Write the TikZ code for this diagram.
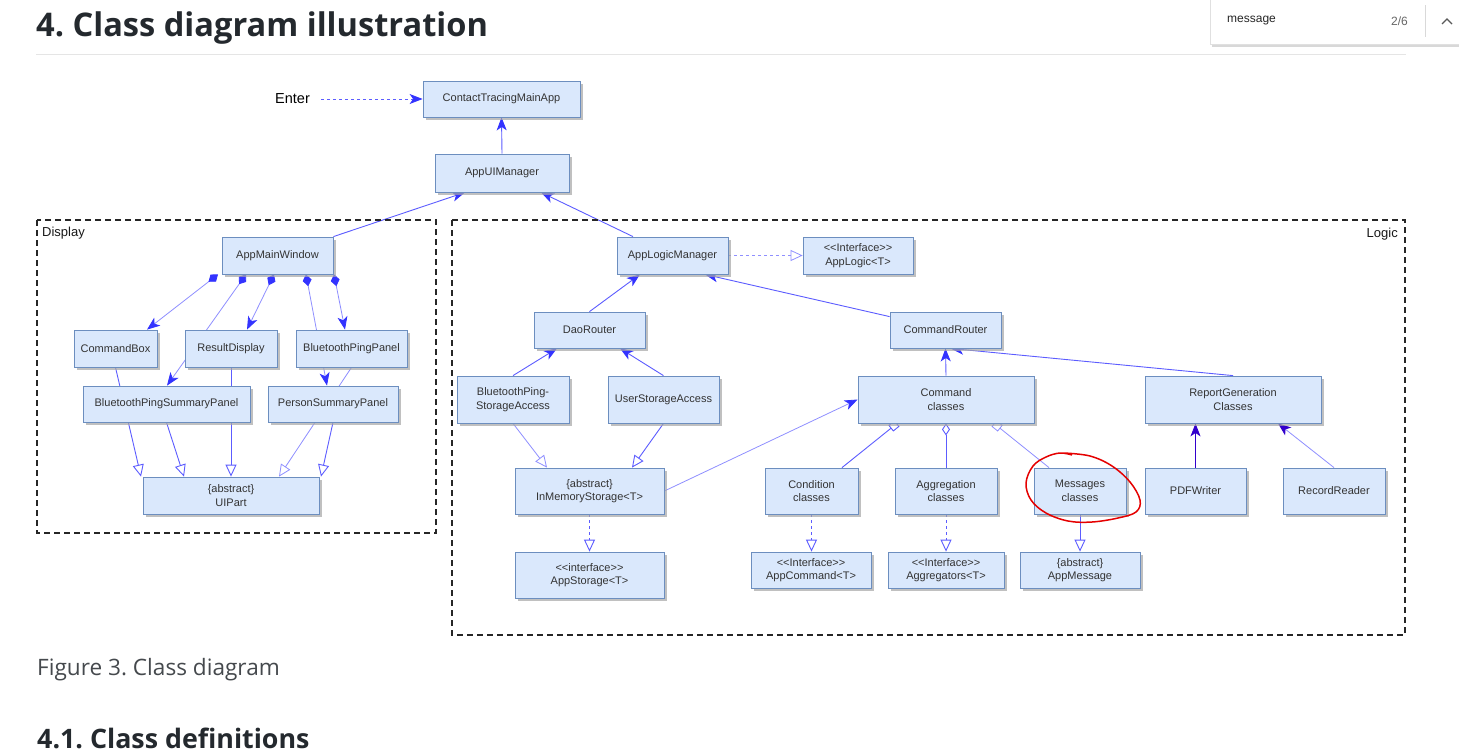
\documentclass[tikz,border=0pt]{standalone}
\usepackage{fontspec}
\setmainfont{Liberation Sans}
\newfontfamily\pagefont{Open Sans}
\usetikzlibrary{arrows.meta,calc,shadows}
\definecolor{boxfill}{HTML}{DAE8FC}
\definecolor{boxline}{HTML}{6C8EBF}
\definecolor{edgec}{HTML}{5C5CFF}
\definecolor{edgel}{HTML}{8F8FFF}
\definecolor{tipc}{HTML}{3333FF}
\definecolor{darkc}{HTML}{3300CC}
\definecolor{txt}{HTML}{333333}
\definecolor{headc}{HTML}{24292E}
\pgfdeclarelayer{edges}
\pgfsetlayers{edges,main}
\tikzset{
  box/.style={draw=boxline, fill=boxfill, line width=0.8pt, inner sep=0pt, align=center,
    text=txt, font=\fontsize{11}{13.5}\selectfont,
    drop shadow={shadow xshift=3pt, shadow yshift=-3pt, fill=black!35, opacity=0.7}},
  frame/.style={draw=black!85, line width=2pt, dash pattern=on 6pt off 4pt},
  ed/.style={draw=edgec, line width=0.9pt},
  edl/.style={draw=edgel, line width=0.8pt},
  dsh/.style={dash pattern=on 3pt off 3pt},
  ar/.style={-{Stealth[length=13pt,width=10pt,inset=3.5pt,color=tipc]}},
  inh/.style={-{Triangle[open,length=12pt,width=11pt]}},
  compar/.style={{Diamond[length=12pt,width=9pt,color=tipc]}-{Stealth[length=13pt,width=10pt,inset=3.5pt,color=tipc]}},
  sqt/.style={{Square[open,length=8pt,width=8pt]}-},
  odm/.style={{Diamond[open,length=12pt,width=8pt]}-},
}
\newcommand\bx[6]{\node[box, minimum width=#4pt, minimum height=#5pt] (#1) at (#2,#3) {#6};}
\newcommand\lt{<{}<}
\newcommand\gt{>{}>}
\frenchspacing
\begin{document}
\begin{tikzpicture}[x=1pt,y=-1pt]
\useasboundingbox (0,0) rectangle (1459,750);
\begin{pgfonlayer}{edges}
\fill[white] (0,0) rectangle (1459,750);
\end{pgfonlayer}
% page headings
\node[anchor=base west, inner sep=0pt, text=headc, font=\pagefont\bfseries\fontsize{32.6}{38}\selectfont] (h1) at (36,36) {4. Class diagram illustration};
\draw[black!10, line width=1pt] (36,54.5) -- (1406,54.5);
\node[anchor=base west, inner sep=0pt, text=headc!85, font=\pagefont\fontsize{22.6}{26}\selectfont] (cap) at (37,675) {Figure 3. Class diagram};
\node[anchor=base west, inner sep=0pt, text=headc, font=\pagefont\bfseries\fontsize{26.8}{32}\selectfont] (h2) at (37,748) {4.1. Class definitions};
% search box
\node[draw=black!12, fill=white, minimum width=249pt, minimum height=47pt, inner sep=0pt,
  drop shadow={shadow xshift=1pt, shadow yshift=-2pt, fill=black!30, opacity=0.5}] (sbox) at (1335,21) {};
\node[anchor=west, inner sep=0pt, text=black!85, font=\fontsize{12}{14}\selectfont] (stext) at (1227,21) {message};
\node[anchor=east, inner sep=0pt, text=black!60, font=\fontsize{12}{14}\selectfont] (scount) at (1408,21) {2/6};
\draw[black!15, line width=1pt] (1425,5) -- (1425,37);
\draw[black!65, line width=1.2pt] (1442,24) -- (1447,19) -- (1452,24);
% frames
\draw[frame] (37,220) rectangle (436,533);
\node[anchor=west, inner sep=0pt, font=\fontsize{13}{15}\selectfont, text=black!90] (dlab) at (42,233) {Display};
\draw[frame] (452,220) rectangle (1405,635);
\node[anchor=east, inner sep=0pt, font=\fontsize{13}{15}\selectfont, text=black!90] (llab) at (1398,234) {Logic};
% top nodes
\node[inner sep=0pt, font=\fontsize{14.5}{16}\selectfont, text=black] (enter) at (292.5,99) {Enter};
\bx{ctma}{501.5}{99}{157}{36}{ContactTracingMainApp}
\bx{aui}{502}{173}{134}{38}{AppUIManager}
% display nodes
\bx{amw}{277.5}{255.5}{111}{37}{AppMainWindow}
\bx{cb}{115.5}{348.5}{83}{37}{CommandBox}
\bx{rd}{231}{348.5}{92}{37}{ResultDisplay}
\bx{bpp}{351.5}{348.5}{111}{37}{BluetoothPingPanel}
\bx{bpsp}{166.5}{404}{167}{36}{BluetoothPingSummaryPanel}
\bx{psp}{333}{404}{130}{36}{PersonSummaryPanel}
\bx{uip}{231}{495.5}{176}{37}{\{abstract\}\\UIPart}
% logic nodes
\bx{alm}{672.5}{255.5}{111}{37}{AppLogicManager}
\bx{alg}{858}{255.5}{110}{37}{\lt Interface\gt\\AppLogic<T>}
\bx{dao}{589.5}{330}{111}{36}{DaoRouter}
\bx{cr}{945.5}{330}{111}{36}{CommandRouter}
\bx{bpsa}{513}{399.5}{112}{47}{BluetoothPing-\\StorageAccess}
\bx{usa}{663.5}{399.5}{111}{47}{UserStorageAccess}
\bx{cmd}{946}{399.5}{176}{47}{Command\\classes}
\bx{rgc}{1233}{399.5}{176}{47}{ReportGeneration\\Classes}
\bx{ims}{589.5}{491}{149}{46}{\{abstract\}\\InMemoryStorage<T>}
\bx{aps}{589.5}{575}{149}{46}{\lt interface\gt\\AppStorage<T>}
\bx{cond}{811.5}{491}{93}{46}{Condition\\classes}
\bx{agg}{946}{491}{102}{46}{Aggregation\\classes}
\bx{msg}{1080}{491}{92}{46}{Messages\\classes}
\bx{pdf}{1195.5}{491}{101}{46}{PDFWriter}
\bx{rr}{1334}{491}{102}{46}{RecordReader}
\bx{apc}{811}{570}{120}{36}{\lt Interface\gt\\AppCommand<T>}
\bx{agi}{946}{570}{116}{36}{\lt Interface\gt\\Aggregators<T>}
\bx{apm}{1080}{570}{120}{36}{\{abstract\}\\AppMessage}
% red hand-drawn circle
\draw[red!90!black, line width=1.5pt, line join=round] plot[smooth, tension=0.6] coordinates {
 (1064,453) (1090,456) (1112,466) (1130,482) (1140,500) (1136,512) (1118,518) (1092,522)
 (1068,521) (1046,513) (1031,500) (1026,483) (1033,466) (1046,457) (1060,453) (1072,455)};
% edges
\begin{pgfonlayer}{edges}
\draw[ed,dsh,ar,shorten <=11pt] (enter.east) -- (ctma.west);
\draw[ed,ar] (aui.north) -- (ctma.south);
\draw[ed,ar] (amw.north east) -- ($(aui.south)+(-37,0)$);
\draw[ed,ar] ($(alm.north)+(-39.5,0)$) -- ($(aui.south)+(39,0)$);
% display
\draw[edl,compar] ($(amw.south)+(-59.5,0)$) -- ($(cb.north)+(31.5,0)$);
\draw[edl,compar] ($(amw.south)+(-31.5,0)$) -- ($(bpsp.north)+(0.5,0)$);
\draw[edl,compar] ($(amw.south)+(-3.5,0)$) -- ($(rd.north)+(16,0)$);
\draw[edl,compar] ($(amw.south)+(28.5,0)$) -- ($(psp.north)+(-6,0)$);
\draw[edl,compar] ($(amw.south)+(56.5,0)$) -- ($(bpp.north)+(-6.5,0)$);
\draw[ed,inh] (cb.south) -- ($(uip.north)+(-90,0)$);
\draw[ed,inh] (bpsp.south) -- ($(uip.north)+(-47,0)$);
\draw[ed,inh] (rd.south) -- (uip.north);
\draw[edl,inh] (bpp.south) -- ($(uip.north)+(48,0)$);
\draw[ed,inh] (psp.south) -- ($(uip.north)+(90,0)$);
% logic
\draw[edl,dsh,inh] (alm.east) -- (alg.west);
\draw[ed,ar] (dao.north) -- ($(alm.south)+(-32.5,0)$);
\draw[ed,ar] ($(cr.north west)+(0,5)$) -- ($(alm.south)+(32.5,0)$);
\draw[ed,ar] (bpsa.north) -- ($(dao.south)+(-32.5,0)$);
\draw[ed,ar] (usa.north) -- ($(dao.south)+(30.5,0)$);
\draw[edl,inh] (bpsa.south) -- ($(ims.north)+(-42.5,0)$);
\draw[ed,inh] (usa.south) -- ($(ims.north)+(42.5,0)$);
\draw[ed,dsh,inh] (ims.south) -- (aps.north);
\draw[edl,ar] (ims.east) -- (cmd.west);
\draw[ed,ar] (cmd.north) -- (cr.south);
\draw[ed,ar] (rgc.north) -- ($(cr.south)+(5,0)$);
\draw[ed,sqt] ($(cmd.south)+(-49,0)$) -- ($(cond.north)+(30.5,0)$);
\draw[ed,odm] (cmd.south) -- (agg.north);
\draw[edl,sqt] ($(cmd.south)+(48,0)$) -- ($(msg.north)+(-31,0)$);
\draw[ed,dsh,inh] (cond.south) -- ($(apc.north)+(0.5,0)$);
\draw[ed,dsh,inh] (agg.south) -- (agi.north);
\draw[ed,inh] (msg.south) -- (apm.north);
\draw[draw=darkc, line width=0.9pt, -{Stealth[length=13pt,width=10pt,inset=3.5pt,color=darkc]}] (pdf.north) -- ($(rgc.south)+(-37.5,0)$);
\draw[edl,-{Stealth[length=13pt,width=10pt,inset=3.5pt,color=darkc]}] (rr.north) -- ($(rgc.south)+(45,0)$);
\end{pgfonlayer}
\end{tikzpicture}
\end{document}
